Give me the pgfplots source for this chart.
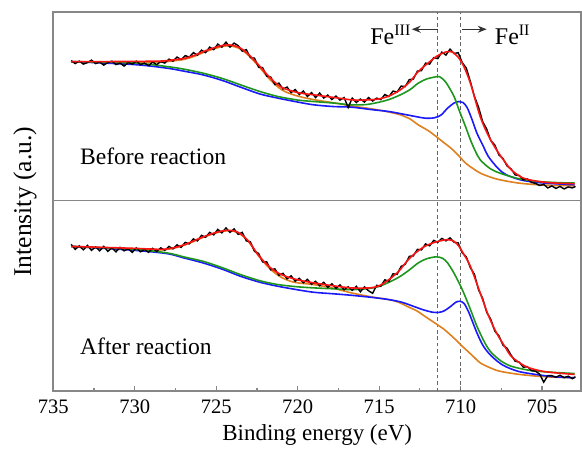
\documentclass[border=0pt]{standalone}
\usepackage{pgfplots}
\pgfplotsset{compat=1.18}
\usepackage{fontspec}
\setmainfont{Liberation Serif}
\usetikzlibrary{arrows.meta}
\definecolor{cred}{RGB}{250,20,20}
\definecolor{cgreen}{RGB}{30,150,30}
\definecolor{cblue}{RGB}{25,25,250}
\definecolor{corange}{RGB}{222,128,30}
\definecolor{cframe}{RGB}{135,135,135}
\begin{document}
\begin{tikzpicture}
\begin{axis}[
  at={(0pt,0pt)}, anchor=south west,
  scale only axis, width=264.35pt, height=189.7pt,
  x dir=reverse, xmin=702.6, xmax=735, ymin=0, ymax=379.4,
  xtick={705,710,...,735}, minor x tick num=1, ytick=\empty,
  tick align=inside, xtick pos=bottom,
  major tick length=2.5pt, minor tick length=1.5pt,
  axis line style={cframe, line width=0.8pt},
  tick style={cframe, line width=0.6pt},
  /pgf/number format/assume math mode=true,
  xticklabel style={font=\fontsize{10.3}{12}\selectfont, yshift=-1pt},
  xlabel={Binding energy (eV)},
  xlabel style={font=\fontsize{11.5}{13}\selectfont, at={(axis description cs:0.5,-0.131)}, anchor=base},
  ylabel={Intensity (a.u.)},
  ylabel style={font=\fontsize{12.8}{14}\selectfont, at={(axis description cs:-0.0535,0.5)}, anchor=center},
]
% divider between panels
\draw[cframe, line width=0.8pt] (rel axis cs:0,0.50343) -- (rel axis cs:1,0.50343);
% dashed reference lines
\draw[gray!80!black, line width=0.5pt, dash pattern=on 1.8pt off 1.4pt] (axis cs:711.4,0) -- (axis cs:711.4,379.4);
\draw[gray!80!black, line width=0.5pt, dash pattern=on 1.8pt off 1.4pt] (axis cs:710.0,0) -- (axis cs:710.0,379.4);

% ================= TOP PANEL (Before reaction) =================
\addplot[corange, line width=0.8pt, smooth, tension=0.5] coordinates {
(733.9,329.5) (732,329.5) (730,329.5) (728.5,329.5) (728,330) (727.5,331) (726.9,332.5) (726.3,335.5) (725.8,339) (725,343.5) (724.4,345.7) (723.9,345) (723.5,342.4) (723,336) (722.4,325.5) (721.7,312) (721.0,302) (720.3,297) (719.5,293.5) (718.5,290.5) (717.5,288) (716.7,285.5) (715.8,283.5) (715.1,281.7) (714.4,279.5) (713.7,276.7) (713.1,272.5) (712.6,266.7) (712.0,261) (711.5,255) (711.0,248.5) (710.6,243.4) (710.1,235.5) (709.7,228.4) (709.2,222.5) (708.8,218.4) (708.2,214.5) (707.6,211.7) (706.5,208.5) (705.3,206.7) (704,205.9) (703,205.7)
};
\addplot[cblue, line width=0.8pt, smooth, tension=0.5] coordinates {
(733.9,330) (730,327) (728,323.4) (727,320.5) (725.8,316.7) (724.6,311) (723.5,304.4) (722.3,297.5) (721.2,293.4) (720,289.5) (719,286.7) (717.8,285) (716.7,284.4) (715.5,282) (714.4,280) (713.3,276.7) (712.2,273.4) (711.6,273.8) (711.2,276.5) (710.8,283.4) (710.4,288.5) (710.1,290) (709.85,289) (709.6,284) (709.3,272) (709.0,258.4) (708.6,245) (708.3,235) (707.7,223) (707.2,216.7) (706.3,211.5) (705.3,209) (704,207.5) (703,206.7)
};
\addplot[cgreen, line width=0.8pt, smooth, tension=0.5] coordinates {
(733.9,330) (730,328.5) (728,325) (727,322.5) (725.8,318.4) (724.6,313) (723.5,306.7) (722.3,300) (721.2,295) (720,291.5) (719,290) (717.8,288.5) (716.7,286.7) (715.8,287) (715.1,289) (714.4,292) (713.7,296.7) (713.1,302) (712.6,308.4) (712.1,312.5) (711.6,314.5) (711.3,315) (711.0,311) (710.8,306.7) (710.4,295) (710.1,281.7) (709.7,265) (709.4,251.7) (709.1,240.5) (708.8,231.7) (708.2,223) (707.6,218.4) (706.5,213) (705.3,210) (704,208.8) (703,208.4)
};
\addplot[black, line width=0.7pt] coordinates {
(733.90,331) (733.65,328) (733.40,330.5) (733.15,327.5) (732.90,329) (732.65,331.5) (732.40,328) (732.15,329.5) (731.90,326.5) (731.65,329) (731.40,330.5) (731.15,327) (730.90,328.5) (730.65,325.5) (730.40,329) (730.15,327.5) (729.90,330.5) (729.65,327) (729.40,328.5) (729.15,326) (728.90,329.5) (728.65,327) (728.40,330) (728.15,328.5) (727.90,332.5) (727.65,330.5) (727.40,334.5) (727.15,332) (726.90,336) (726.65,334.5) (726.40,339) (726.15,336.5) (725.90,341.5) (725.65,339) (725.40,344.5) (725.15,342) (724.90,347.5) (724.65,344.5) (724.40,349.5) (724.15,344.5) (723.90,348.5) (723.65,346) (723.40,340.5) (723.15,342) (722.90,334) (722.65,333.5) (722.40,324.5) (722.15,324) (721.90,315.5) (721.65,314.5) (721.40,307) (721.15,308.5) (720.90,302.5) (720.65,304.5) (720.40,299) (720.15,302) (719.90,297) (719.65,300.5) (719.40,295) (719.15,299) (718.90,294) (718.65,298.5) (718.40,293.5) (718.15,296.5) (717.90,292) (717.65,295.5) (717.40,291.5) (717.15,294) (716.90,284) (716.65,293.5) (716.40,289) (716.15,292.5) (715.90,289.5) (715.65,294) (715.40,290.5) (715.15,293.5) (714.90,292) (714.65,297) (714.40,295) (714.15,300.5) (713.90,299.5) (713.65,305.5) (713.40,305) (713.15,312) (712.90,312.5) (712.65,320.5) (712.40,321) (712.15,328.5) (711.90,327.5) (711.65,334) (711.40,333) (711.15,339.5) (710.90,336.5) (710.65,342.5) (710.40,338) (710.15,339) (709.90,329) (709.65,323.5) (709.40,310) (709.15,295) (708.90,284.5) (708.65,270) (708.40,262.5) (708.15,251) (707.90,246.5) (707.65,236.5) (707.40,233) (707.15,225.5) (706.90,222.5) (706.65,216.5) (706.40,216) (706.15,211.5) (705.90,212.5) (705.65,209) (705.40,208) (705.15,206) (704.90,207) (704.65,203.5) (704.40,205.5) (704.15,203) (703.90,205) (703.65,202.5) (703.40,204.5) (703.15,203.5) (702.95,205)
};
\addplot[cred, line width=0.8pt, smooth, tension=0.5] coordinates {
(733.9,330) (732,330) (730,330.2) (728.5,330.5) (728,331) (727.5,332) (726.9,333.4) (726.3,336.5) (725.8,340) (725.0,344.5) (724.4,346.7) (723.9,346) (723.5,343.4) (723,337) (722.4,326.7) (721.7,314) (721.0,304.4) (720.0,299) (719.0,296.7) (717.5,293.5) (716.7,291.7) (716,291.5) (715.1,292.4) (714.4,295.5) (713.7,301.7) (713.1,310) (712.6,320) (712,328.5) (711.5,335) (711.1,338.5) (710.8,340) (710.5,339.5) (710.1,333.4) (709.8,325) (709.4,308.4) (708.8,275) (708.3,256) (707.8,241.7) (707.3,230) (706.9,221.7) (706.3,214.5) (705.8,211.7) (705,209.5) (704.2,208.4) (703,207.7)
};

% ================= BOTTOM PANEL (After reaction) =================
\addplot[corange, line width=0.8pt, smooth, tension=0.5] coordinates {
(733.9,144.5) (730,142.5) (728.5,141.5) (728,142) (727.5,143.5) (726.9,146.5) (726.3,150.5) (725.8,154) (725,158.5) (724.4,160.5) (723.9,160) (723.5,157) (723,149.5) (722.4,135.5) (721.7,122.5) (721.0,114) (720.2,109) (719,106.7) (717.8,103) (716.7,98.4) (715.5,94.5) (714.4,91.7) (713.8,89) (713.3,85) (712.7,80.5) (712.2,75) (711.6,68.5) (711.0,61.7) (710.4,53) (709.9,45) (709.3,36) (708.8,28.4) (708.2,23.5) (707.6,20) (706.5,17) (705.3,15) (704.2,14) (703,13.4)
};
\addplot[cblue, line width=0.8pt, smooth, tension=0.5] coordinates {
(733.9,145) (730,141) (728,137.7) (727,133.5) (725.8,128.4) (724.6,122) (723.5,115) (722.3,109) (721.2,105) (720,101.5) (719,99) (717.8,97.5) (716.7,96) (715.5,94) (714.4,91.7) (713.6,89) (712.9,85) (712.3,81.5) (711.7,79) (711.3,79) (711,80.5) (710.6,85) (710.3,89) (710.05,90) (709.8,88) (709.5,79) (709.0,58.4) (708.6,45) (708.1,35) (707.4,26) (706.5,20) (705.5,17) (704.3,14.5) (703,13.4)
};
\addplot[cgreen, line width=0.8pt, smooth, tension=0.5] coordinates {
(733.9,145) (730,142) (728,138.4) (727,134.5) (725.8,130) (724.6,123.5) (723.5,116.7) (722.3,110.5) (721.2,106.7) (720,104.5) (719,103.4) (717.8,102.5) (716.7,101.7) (715.8,102.5) (715.1,104.4) (714.4,109) (713.7,115) (713.1,122) (712.6,128.4) (712.1,132.5) (711.5,134.5) (711.1,133) (710.8,128.4) (710.4,118) (709.9,101.7) (709.4,82) (709.0,65) (708.5,48) (708.1,38.4) (707.5,30) (706.9,25) (706,21.5) (705.3,20) (704,18.5) (703,17.7)
};
\addplot[black, line width=0.7pt] coordinates {
(733.90,147) (733.65,142) (733.40,145.5) (733.15,141.5) (732.90,146) (732.65,141) (732.40,144.5) (732.15,140.5) (731.90,145) (731.65,140) (731.40,143.5) (731.15,139.5) (730.90,144) (730.65,140.5) (730.40,142.5) (730.15,139) (729.90,143.5) (729.65,139.5) (729.40,142) (729.15,139) (728.90,143) (728.65,140) (728.40,143.5) (728.15,141) (727.90,145) (727.65,142.5) (727.40,146.5) (727.15,144) (726.90,149) (726.65,147.5) (726.40,152.5) (726.15,150.5) (725.90,156) (725.65,154) (725.40,159) (725.15,156.5) (724.90,162) (724.65,158.5) (724.40,163.5) (724.15,159) (723.90,162.5) (723.65,157) (723.40,159) (723.15,150.5) (722.90,149.5) (722.65,140) (722.40,138) (722.15,129.5) (721.90,129.5) (721.65,121.5) (721.40,122.5) (721.15,116) (720.90,118) (720.65,112.5) (720.40,115.5) (720.15,110) (719.90,113) (719.65,108.5) (719.40,112) (719.15,107) (718.90,110) (718.65,105.5) (718.40,109) (718.15,104) (717.90,107.5) (717.65,103) (717.40,106.5) (717.15,101.5) (716.90,104.5) (716.65,101) (716.40,105) (716.15,99.5) (715.90,104.5) (715.65,100.5) (715.40,98) (715.15,106) (714.90,105) (714.65,111.5) (714.40,110) (714.15,117.5) (713.90,117) (713.65,125) (713.40,127) (713.15,135) (712.90,135.5) (712.65,142) (712.40,141.5) (712.15,147.5) (711.90,145.5) (711.65,151) (711.40,149) (711.15,153) (710.90,150.5) (710.65,153.5) (710.40,149) (710.15,148.5) (709.90,138.5) (709.65,134.5) (709.40,123.5) (709.15,117) (708.90,101.5) (708.65,93) (708.40,79) (708.15,72) (707.90,60) (707.65,55.5) (707.40,46) (707.15,43) (706.90,36) (706.65,30) (706.40,29) (706.15,24) (705.90,24.5) (705.65,20.5) (705.40,20) (705.15,17) (704.90,9) (704.65,15.5) (704.40,15.5) (704.15,14) (703.90,16) (703.65,13.5) (703.40,15) (703.15,12.5) (702.95,14.5)
};
\addplot[cred, line width=0.8pt, smooth, tension=0.5] coordinates {
(733.9,145) (732,144) (730,143) (728.5,142) (728,142.5) (727.5,144) (726.9,147) (726.3,151) (725.8,154.5) (725.0,159) (724.4,161) (723.9,160.5) (723.5,157.5) (723,150) (722.4,136) (721.7,124) (721.0,116.7) (720,111.5) (719.0,108.4) (717.8,105.5) (716.7,103.4) (715.6,103.4) (715,105.5) (714.4,111.7) (713.8,120) (713.3,130) (712.8,138) (712.2,145) (711.5,149.5) (710.8,151.7) (710.4,150) (710.1,145) (709.8,137) (709.4,125) (708.8,98.4) (708.3,76) (707.8,58.4) (707.3,45) (706.9,35) (706.3,27.5) (705.8,23.4) (705,20) (704.2,18.4) (703,16.7)
};

% ================= annotations =================
\node[anchor=west, font=\fontsize{11.8}{13}\selectfont, inner sep=0pt] at (axis cs:733.37,235) {Before reaction};
\node[anchor=west, font=\fontsize{11.8}{13}\selectfont, inner sep=0pt] at (axis cs:733.37,45) {After reaction};
\node[anchor=base, font=\fontsize{12}{14}\selectfont, inner sep=0pt] at (axis cs:714.28,347.4) {Fe\textsuperscript{III}};
\node[anchor=base, font=\fontsize{12}{14}\selectfont, inner sep=0pt] at (axis cs:706.8,347.4) {Fe\textsuperscript{II}};
\draw[-{Stealth[length=4.5pt,width=3.5pt]}, black!80, line width=0.55pt] (axis cs:711.4,362.4) -- (axis cs:713.0,362.4);
\draw[-{Stealth[length=4.5pt,width=3.5pt]}, black!80, line width=0.55pt] (axis cs:709.9,362.4) -- (axis cs:708.4,362.4);
\end{axis}
\path[use as bounding box] (-26.65pt,-27.65pt) rectangle (264.35pt,195.85pt);
\end{tikzpicture}
\end{document}
